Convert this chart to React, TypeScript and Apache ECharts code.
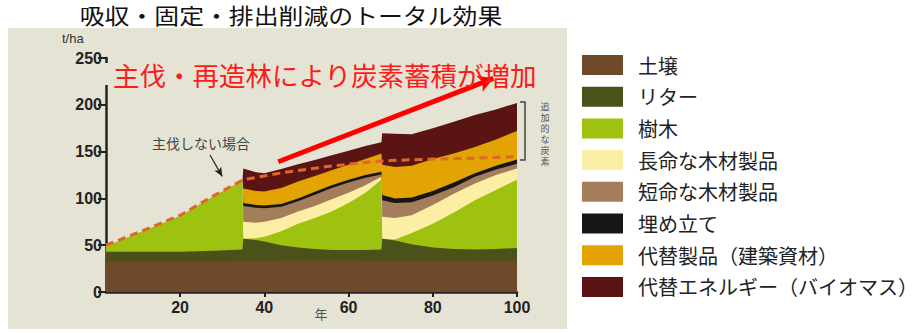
import React, { useEffect, useRef } from "react";
import * as echarts from "echarts";

// x positions (years); harvests at ~35 and ~68 appear as near-vertical steps
const years = [2.4, 10, 20, 28, 34.8, 35, 38, 40, 44, 48, 52, 56, 60, 64, 67.8, 68, 71, 75, 80, 85, 90, 95, 100];

// layer thicknesses (t/ha), bottom to top
const soil = [32, 32, 32, 32, 32.5, 32.5, 33, 33, 33.5, 34, 34, 34, 34, 33.5, 33.5, 33, 33, 32.5, 32.5, 32.5, 32.5, 32.5, 32.5];
const litter = [11, 11, 11, 12, 13, 24.5, 22.5, 21, 16.5, 13.5, 12, 11, 11, 11.5, 12, 24, 22, 18.5, 15, 13.5, 13, 13.5, 14.5];
const trees = [5.5, 19.5, 38, 58, 73, 0, 2, 5, 15, 25.5, 33, 41, 50, 61, 74.5, 0, 1, 12, 25.5, 39, 52.5, 63, 73];
const longLived = [0, 0, 0, 0, 0, 18, 16.5, 16, 14, 13, 13, 13, 11, 8, 3, 23.5, 23, 19, 20, 20, 18, 16, 12];
const shortLived = [0, 0, 0, 0, 0, 17, 16, 14.5, 12, 11, 12, 12, 11, 8, 2.5, 17.5, 16, 14, 10, 7, 7, 6, 5];
const landfill = [0, 0, 0, 0, 0, 3, 3, 3, 3, 3, 3, 3, 3, 3, 3, 5.5, 5, 5, 5, 5, 4, 4, 4.5];
const substProducts = [0, 0, 0, 0, 0, 15.5, 15, 15, 17, 18, 17, 16, 16, 17, 19.5, 32.5, 33.5, 34, 34, 31, 28, 28, 30.5];
const bioEnergy = [0, 0, 0, 0, 0, 21.5, 20, 19.5, 20.5, 18.5, 17, 16, 15, 14, 12, 33.5, 35.5, 33.5, 33, 34, 34, 32, 30];

// "no harvest" scenario (dashed line)
const noHarvestYears = [2.4, 10, 20, 28, 35, 40, 45, 50, 55, 60, 65, 70, 80, 90, 100];
const noHarvest = [50, 63.5, 82, 103, 120, 124, 128, 131, 134, 136.5, 139, 140.5, 142, 143, 144.5];

const xTicks = [20, 40, 60, 80, 100];

const layerNames = ["土壌", "リター", "樹木", "長命な木材製品", "短命な木材製品", "埋め立て", "代替製品（建築資材）", "代替エネルギー（バイオマス）"];
const layerValues = [soil, litter, trees, longLived, shortLived, landfill, substProducts, bioEnergy];
const layerColors = ["#6f4a2a", "#4a5219", "#9ec20f", "#fdeea6", "#a47d5b", "#161616", "#e2a303", "#5a1414"];

const bracketLabel = "追加的な炭素";

const BG = "#e5e3d4";
const JP = '"Noto Sans CJK JP", "Noto Sans", sans-serif';

export default function App() {
  const ref = useRef<HTMLDivElement>(null);
  useEffect(() => {
    document.body.style.margin = "0";
    const chart = echarts.init(ref.current!, null, { renderer: "svg" });

    const cum: number[][] = [];
    let run = years.map(() => 0);
    layerValues.forEach((vals) => {
      run = run.map((v, j) => v + vals[j]);
      cum.push(run);
    });

    const n = layerNames.length;
    const areaSeries: any[] = layerNames.map((name, i) => ({
      name,
      type: "line",
      data: years.map((x, j) => [x, cum[i][j]]),
      symbol: "none",
      lineStyle: { width: 0 },
      areaStyle: { color: layerColors[i], opacity: 1 },
      itemStyle: { color: layerColors[i] },
      silent: true,
      z: 10 + (n - i), // lower layers drawn on top of the taller cumulative areas
    }));
    const ordered = areaSeries.slice().reverse();

    chart.setOption({
      animation: false,
      grid: { left: 106, right: 407, top: 58, bottom: 41 },
      legend: {
        data: layerNames,
        orient: "vertical",
        left: 582,
        top: 55,
        padding: 0,
        itemWidth: 41,
        itemHeight: 20,
        itemGap: 11.7,
        icon: "rect",
        selectedMode: false,
        textStyle: { fontSize: 20, color: "#222", fontFamily: JP, padding: [0, 0, 0, 10] },
      },
      xAxis: {
        type: "value",
        min: 2.4,
        max: 100,
        splitLine: { show: false },
        axisLine: { show: true, onZero: true, lineStyle: { color: "#222", width: 2.5 } },
        axisTick: { show: true, customValues: xTicks, length: 5, lineStyle: { color: "#222", width: 2 } },
        axisLabel: {
          customValues: xTicks,
          margin: 7,
          fontSize: 16,
          fontWeight: "bold",
          color: "#222",
          fontFamily: '"Liberation Sans", Arial, sans-serif',
        },
      },
      yAxis: {
        type: "value",
        min: 0,
        max: 250,
        interval: 50,
        splitLine: { show: false },
        axisLine: { show: true, lineStyle: { color: "#222", width: 2.5 } },
        axisTick: { show: true, length: 8, lineStyle: { color: "#222", width: 2 } },
        axisLabel: {
          margin: 4,
          fontSize: 16,
          fontWeight: "bold",
          color: "#222",
          fontFamily: '"Liberation Sans", Arial, sans-serif',
        },
      },
      series: [
        ...ordered,
        {
          name: "主伐しない場合",
          type: "line",
          data: noHarvestYears.map((x, j) => [x, noHarvest[j]]),
          symbol: "none",
          lineStyle: { color: "#e0662a", width: 3, type: [8, 5] },
          silent: true,
          z: 30,
          markLine: {
            silent: true,
            symbol: ["none", "arrow"],
            label: { show: false },
            data: [
              [
                { coord: [43.3, 139.2], symbol: "none", lineStyle: { color: "#ff0000", width: 5, type: "solid" } },
                { coord: [94.4, 228.3], symbol: "arrow", symbolSize: [13, 15] },
              ],
              [
                { coord: [27.1, 146.4], symbol: "none", lineStyle: { color: "#222", width: 1.2, type: "solid" } },
                { coord: [30.0, 123.5], symbol: "arrow", symbolSize: [6, 9] },
              ],
            ],
          },
        },
      ],
    });

    const p = (x: number, y: number) => chart.convertToPixel({ gridIndex: 0 }, [x, y]) as number[];
    const bTop = p(101.9, 203);
    const bBot = p(101.9, 141);
    const bLeft = p(100.7, 0)[0];

    const verticalChars = bracketLabel.split("").map((ch, k) => ({
      type: "text",
      z: 50,
      x: 545,
      y: 107 + k * 11,
      style: {
        text: ch,
        fontSize: 9,
        fontFamily: '"Liberation Sans", "Noto Sans CJK JP", sans-serif',
        fill: "#555",
        align: "center",
        verticalAlign: "middle",
      },
    }));

    chart.setOption({
      graphic: {
        elements: [
          { type: "rect", z: -10, silent: true, shape: { x: 8, y: 28, width: 559, height: 301 }, style: { fill: BG } },
          {
            type: "text",
            z: 50,
            x: 291,
            y: 15,
            scaleX: 1.13,
            style: { text: "吸収・固定・排出削減のトータル効果", fontSize: 22, fontFamily: JP, fill: "#111", align: "center", verticalAlign: "middle" },
          },
          { type: "rect", z: 40, silent: true, shape: { x: 103, y: 63, width: 10, height: 22 }, style: { fill: BG } },
          {
            type: "text",
            z: 50,
            x: 113,
            y: 74,
            style: { text: "主伐・再造林により炭素蓄積が増加", fontSize: 26.5, fontFamily: JP, fill: "#ff1a1a", align: "left", verticalAlign: "middle" },
          },
          {
            type: "text",
            z: 50,
            x: 62,
            y: 38,
            style: { text: "t/ha", fontSize: 13, fontFamily: '"Liberation Sans", Arial, sans-serif', fill: "#333", align: "left", verticalAlign: "middle" },
          },
          {
            type: "text",
            z: 50,
            x: 321,
            y: 313,
            style: { text: "年", fontSize: 13, fontFamily: JP, fill: "#555", align: "center", verticalAlign: "middle" },
          },
          {
            type: "text",
            z: 50,
            x: 152,
            y: 143,
            style: { text: "主伐しない場合", fontSize: 14, fontFamily: JP, fill: "#444", align: "left", verticalAlign: "middle" },
          },
          {
            type: "polyline",
            z: 50,
            silent: true,
            shape: { points: [[bLeft, bTop[1]], [bTop[0], bTop[1]], [bBot[0], bBot[1]], [bLeft, bBot[1]]] },
            style: { stroke: "#444", lineWidth: 1.5, fill: "none" },
          },
          ...verticalChars,
        ],
      },
    });

    return () => chart.dispose();
  }, []);
  return <div ref={ref} style={{ width: 924, height: 333 }} />;
}
